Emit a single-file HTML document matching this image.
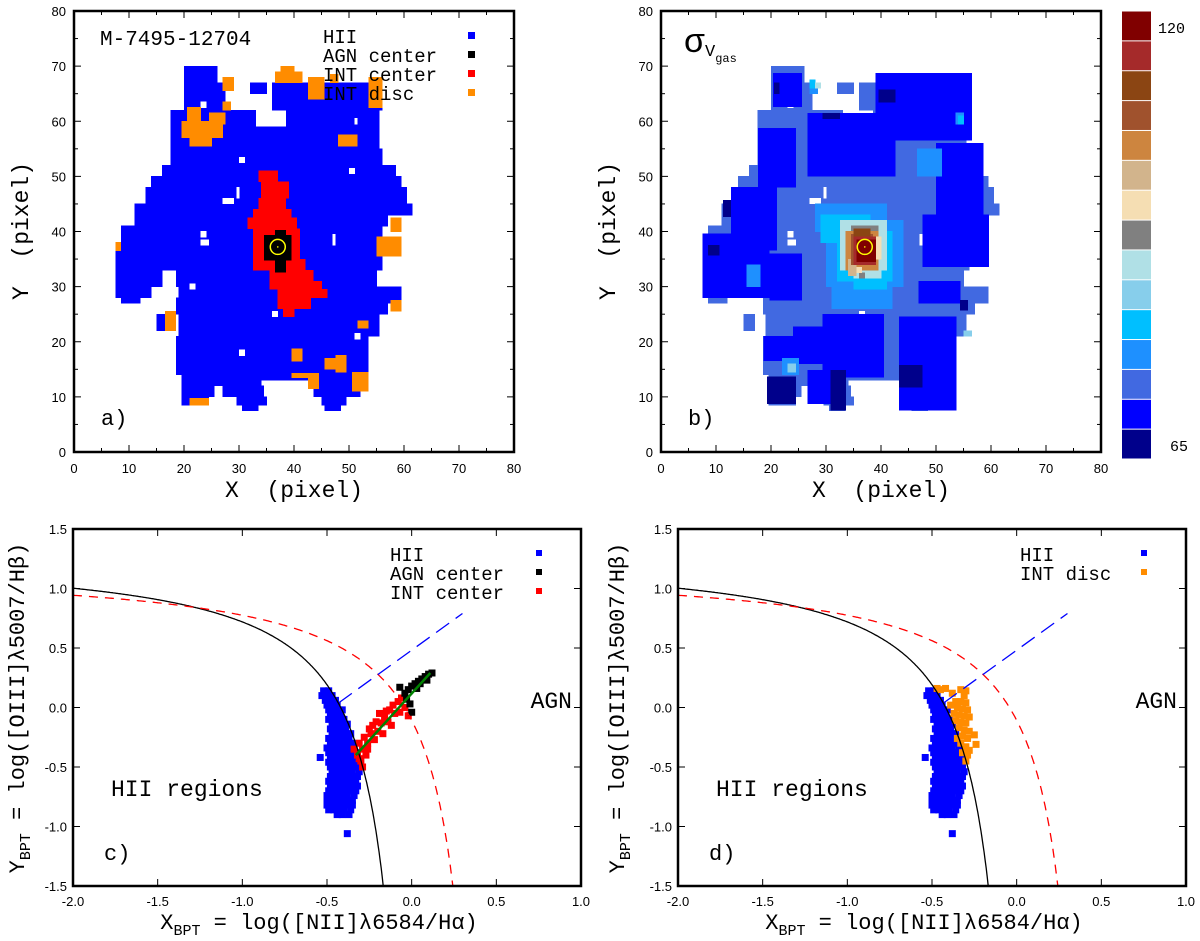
<!DOCTYPE html>
<html><head><meta charset="utf-8"><style>
html,body{margin:0;padding:0;background:#fff}
svg{display:block}
text{font-family:"Liberation Sans",sans-serif}
.mono{font-family:"Liberation Mono",monospace}
</style></head><body>
<svg id="fig" width="1200" height="941" viewBox="0 0 1200 941" xmlns="http://www.w3.org/2000/svg"></svg>
<script>
// ---------- data: map a (region rectangles in pixel units: x0,x1,y0,y1) ----------
const hiiRects=[[20,26,67,70],[20,27.5,62,67],[32,35,65,67],[36,56,62,67],[17.5,33,59,62],[38.5,55.5,59,62],[17.5,55.5,55,59],[17.5,56,52,55],[16,58.5,50,52],[14,59.5,48,50],[13,60.5,45,48],[11,61.5,43,45],[11,57,41,43],[8.5,56,38,41],[7.5,56,33,38],[7.5,16,30,33],[18.5,55,30,33],[7.5,14,28,30],[19,59.5,28,30],[8.5,12,27,28],[18.5,59.5,27,28],[18.5,57,25,27],[15,17,22,25],[19,55.5,21,25],[18.5,53.5,14,21],[19.5,53.5,13,14],[19.5,34,12,13],[43.5,51.5,12,13],[19.5,25.5,10,12],[27,34.5,10,12],[43.5,52,10,12],[19.5,24.5,8.5,10],[29.5,35,8.5,10],[45,49.5,8.5,10],[30.5,33.5,7.5,8.5],[45.5,48.5,7.5,8.5]];
const holeRects=[[30,31,52.5,53.5],[27,29,45,46],[29.5,30,46,48],[23,24,39,40],[23,24.5,37.5,38.5],[47,47.5,37.5,39.5],[50,51,50.5,51.5],[51,51.5,59.5,60.5],[36,37,24.5,25.5],[30,31,17.5,18.5],[51,52,20.5,21.5],[23,24,62.5,63.5],[21,22,29.5,30.5]];
const intCenterRects=[[33.5,37,49,51],[34,39,46,49],[33.5,38.5,44,46],[32.5,39.5,42.5,44],[31.5,40.5,40.5,42.5],[32.5,41,35,40.5],[32.5,42,33,35],[35.5,43.5,31,33],[35.5,45,29.5,31],[37,46,28,29.5],[37,43,26,28],[38,40,24.5,26]];
const agnCenterRects=[[34.5,39.5,34.8,39.3],[36.5,38.5,39.3,40.2],[36.5,38.5,32.6,34.8]];
const intDiscRects=[[27,29,65.5,68],[27,28.5,62,63.5],[20.5,23,59.5,62.5],[19.5,27,57,60],[21,25,55.5,57],[24.5,27.5,59.5,61.5],[36.5,41.5,67,69],[37.5,40,69,70],[42.5,45.5,64,68],[46.5,48,67,68.5],[53.5,56,62.5,68],[48,51.5,55.5,57.5],[57.5,59.5,40,42.5],[55,59.5,35.5,39],[7.5,8.5,36.5,38],[57.5,59.5,25.5,27.5],[51.5,53.5,22.5,23.8],[16.5,18.5,22,25.5],[39.5,41.5,16.5,18.7],[45.5,49.5,15,17],[47.5,49.5,14.5,17.5],[39.5,44.5,13.5,14.3],[42.5,44.5,11.5,14.3],[50.5,53.5,11,14.5],[21,24.5,8.5,9.7]];
const nucleus=[37.05,37.2];
// ---------- data: map b (sigma levels 0..14 = colorbar index from bottom) ----------
const cbColors=['#00008b','#0000ff','#4169e1','#1e90ff','#00bfff','#87ceeb','#b0e0e6','#808080','#f5deb3','#d2b48c','#cd853f','#a0522d','#8b4513','#a52a2a','#800000'];
const cbLabels=['65','120'];
const sigRects=[ // x0,x1,y0,y1,level
[20.4,25.6,62.6,68.7,1],[17.6,24.5,48,58.7,1],[12.7,21,36.6,48,1],[7.5,19.7,28,39.6,1],[26.6,42.6,50,61.4,1],[39,56.5,56.6,68.7,1],[50,58.6,43,56,1],[47.5,59.6,33.6,43,1],[46.8,54.4,27,31,1],[19.7,25.6,27.5,36,1],[29.4,40.5,13.6,25,1],[26.6,33.6,8.8,14.8,1],[43.3,53.7,7.6,24.5,1],[18.6,24.5,16.6,21,1],[24,29.4,16,22.7,1],
[19.3,24.5,8.8,13.6,0],[30.8,33.6,7.6,14.8,0],[43.3,47.5,11.8,15.7,0],[8.5,10.6,35.7,37.5,0],[11.3,12.7,42.7,45.7,0],[39.5,42.6,63.5,65.7,0],[29.4,32.5,60.5,61.4,0],[54.4,55.8,25.7,27.5,0],[20.5,21.5,65,67,0],
[28,41,40,45,3],[30,44,30,42,3],[31,42,26,30,3],[46.5,51,50,55,3],[22,25,14,17,3],[27,28.5,65,67,3],[53.5,55,59.5,61.5,3],[15.5,18,30,34,3],
[29,38,38,43,4],[32,42,31,40,4],[35,41,29.5,31.5,4],[27,28,66,67.5,4],[54,55,59.5,61,4],
[32.5,41,33,42,6],[35,40,31.5,33,6],[23,24.5,14.5,16,5],[55,56.5,21,22,5],[28,29,66,67,6],
[34,35,35,37,7],[36,37,31.5,32.5,7],[34.5,39.5,39,41,7],
[33.5,39.5,33,40,10],[34,35.5,32,35,9],[38,40,35,39,8],[35.5,36.5,32.5,33.5,8],
[34.5,38.5,34,39.5,11],[35,38,36,40.5,12],[35,39,34,39,13],[35.5,39,34.5,38.5,14]];
// ---------- data: BPT diagrams ----------
const hiiPts=[[-0.52,0.14],[-0.49,0.14],[-0.53,0.10],[-0.50,0.10],[-0.47,0.10],[-0.51,0.06],[-0.48,0.06],[-0.45,0.06],[-0.50,0.02],[-0.47,0.02],[-0.44,0.02],[-0.49,-0.02],[-0.46,-0.02],[-0.43,-0.02],[-0.41,-0.02],[-0.48,-0.06],[-0.45,-0.06],[-0.42,-0.06],[-0.49,-0.10],[-0.46,-0.10],[-0.43,-0.10],[-0.40,-0.10],[-0.47,-0.14],[-0.44,-0.14],[-0.41,-0.14],[-0.38,-0.14],[-0.48,-0.18],[-0.45,-0.18],[-0.42,-0.18],[-0.39,-0.18],[-0.47,-0.22],[-0.44,-0.22],[-0.41,-0.22],[-0.38,-0.22],[-0.36,-0.22],[-0.49,-0.26],[-0.46,-0.26],[-0.43,-0.26],[-0.40,-0.26],[-0.37,-0.26],[-0.48,-0.30],[-0.45,-0.30],[-0.42,-0.30],[-0.39,-0.30],[-0.35,-0.30],[-0.50,-0.34],[-0.47,-0.34],[-0.44,-0.34],[-0.41,-0.34],[-0.38,-0.34],[-0.34,-0.34],[-0.49,-0.38],[-0.46,-0.38],[-0.43,-0.38],[-0.40,-0.38],[-0.37,-0.38],[-0.33,-0.38],[-0.54,-0.42],[-0.48,-0.42],[-0.45,-0.42],[-0.42,-0.42],[-0.39,-0.42],[-0.36,-0.42],[-0.32,-0.42],[-0.49,-0.46],[-0.46,-0.46],[-0.43,-0.46],[-0.40,-0.46],[-0.37,-0.46],[-0.33,-0.46],[-0.48,-0.50],[-0.45,-0.50],[-0.42,-0.50],[-0.39,-0.50],[-0.36,-0.50],[-0.32,-0.50],[-0.47,-0.54],[-0.44,-0.54],[-0.41,-0.54],[-0.38,-0.54],[-0.35,-0.54],[-0.31,-0.54],[-0.48,-0.58],[-0.45,-0.58],[-0.42,-0.58],[-0.39,-0.58],[-0.36,-0.58],[-0.32,-0.58],[-0.49,-0.62],[-0.46,-0.62],[-0.43,-0.62],[-0.40,-0.62],[-0.37,-0.62],[-0.33,-0.62],[-0.48,-0.66],[-0.45,-0.66],[-0.42,-0.66],[-0.39,-0.66],[-0.36,-0.66],[-0.32,-0.66],[-0.49,-0.70],[-0.46,-0.70],[-0.43,-0.70],[-0.40,-0.70],[-0.37,-0.70],[-0.33,-0.70],[-0.50,-0.74],[-0.47,-0.74],[-0.44,-0.74],[-0.41,-0.74],[-0.38,-0.74],[-0.34,-0.74],[-0.50,-0.78],[-0.47,-0.78],[-0.44,-0.78],[-0.41,-0.78],[-0.38,-0.78],[-0.35,-0.78],[-0.50,-0.82],[-0.47,-0.82],[-0.44,-0.82],[-0.41,-0.82],[-0.38,-0.82],[-0.35,-0.82],[-0.49,-0.86],[-0.46,-0.86],[-0.43,-0.86],[-0.40,-0.86],[-0.36,-0.86],[-0.44,-0.90],[-0.41,-0.90],[-0.37,-0.90],[-0.38,-1.06]];
const intCenterPts=[[-0.34,-0.35],[-0.32,-0.40],[-0.30,-0.45],[-0.31,-0.30],[-0.29,-0.35],[-0.27,-0.40],[-0.28,-0.25],[-0.26,-0.30],[-0.24,-0.22],[-0.22,-0.27],[-0.25,-0.18],[-0.20,-0.20],[-0.18,-0.13],[-0.21,-0.12],[-0.16,-0.08],[-0.14,-0.12],[-0.13,-0.02],[-0.10,-0.05],[-0.11,0.02],[-0.08,0.05],[-0.06,0.08],[-0.04,0.0],[-0.02,-0.07],[-0.07,-0.04],[-0.17,-0.22],[-0.29,-0.50],[-0.31,-0.43],[-0.26,-0.35],[-0.23,-0.15],[-0.15,-0.03],[-0.19,-0.05],[-0.12,-0.15]];
const agnCenterPts=[[-0.07,0.17],[-0.04,0.12],[-0.02,0.15],[0.0,0.18],[0.02,0.2],[0.04,0.22],[0.06,0.24],[0.08,0.26],[0.10,0.28],[0.12,0.29],[0.05,0.2],[-0.03,0.07],[-0.01,0.03],[0.0,-0.04],[0.09,0.23],[0.03,0.16]];
const intDiscPts=[[-0.47,0.16],[-0.45,0.15],[-0.42,0.16],[-0.38,0.12],[-0.33,0.15],[-0.30,0.14],[-0.31,0.10],[-0.36,0.05],[-0.33,0.05],[-0.30,0.04],[-0.39,0.02],[-0.35,0.0],[-0.32,-0.01],[-0.29,-0.02],[-0.37,-0.05],[-0.34,-0.06],[-0.31,-0.07],[-0.28,-0.08],[-0.36,-0.11],[-0.33,-0.12],[-0.30,-0.13],[-0.34,-0.17],[-0.31,-0.19],[-0.28,-0.2],[-0.32,-0.24],[-0.29,-0.26],[-0.25,-0.23],[-0.24,-0.31],[-0.33,-0.30],[-0.30,-0.33],[-0.32,-0.38],[-0.29,-0.40],[-0.30,-0.45],[-0.28,-0.36],[-0.35,-0.26]];
const fitLine=[[-0.33,-0.40],[0.11,0.29]];
const sepLine=[[-0.43,0.04],[0.3,0.79]];
const mapTicks=[0,10,20,30,40,50,60,70,80];
const bptXTicks=[-2.0,-1.5,-1.0,-0.5,0.0,0.5,1.0];
const bptYTicks=[-1.5,-1.0,-0.5,0.0,0.5,1.0,1.5];

const NS='http://www.w3.org/2000/svg';
const svg=document.getElementById('fig');
function mk(tag,attrs,parent){const e=document.createElementNS(NS,tag);for(const k in attrs)e.setAttribute(k,attrs[k]);(parent||svg).appendChild(e);return e;}
function txt(s,x,y,size,cls,anchor,parent){const t=mk('text',{x:x,y:y,'font-size':size,'text-anchor':anchor||'start'},parent);if(cls)t.setAttribute('class',cls);t.textContent=s;return t;}

// ---------- map panels ----------
function mapPanel(L,name){
  const g=mk('g',{});
  
  
  const cg=mk('g',{'shape-rendering':'crispEdges'},g);
  const T=11,B=452,W=440;
  const sx=X=>L+X*W/80, sy=Y=>B-Y*(B-T)/80;
  return {g,sx,sy,L,T,B,W,rect:(r,c,nm)=>{const e=mk('rect',{x:sx(r[0]),y:sy(r[3])-0.3,width:sx(r[1])-sx(r[0])+0.3,height:sy(r[2])-sy(r[3])+0.6,fill:c},cg);return e;}};
}
function mapAxes(P,label){
  const {g,sx,sy,L,T,B}=P;
  mapTicks.forEach(v=>{
    const x=sx(v);mk('line',{x1:x,y1:B,x2:x,y2:B-7,stroke:'#000','stroke-width':1},g);mk('line',{x1:x,y1:T,x2:x,y2:T+7,stroke:'#000','stroke-width':1},g);
    const y=sy(v);mk('line',{x1:L,y1:y,x2:L+7,y2:y,stroke:'#000'},g);mk('line',{x1:L+440,y1:y,x2:L+433,y2:y,stroke:'#000'},g);
    const xl=txt(String(v),sx(v),B+21,13,'', 'middle',g);
    const yl=txt(String(v),L-8,y+5,13,'','end',g);
    if(v<80){const m=v+5;mk('line',{x1:sx(m),y1:B,x2:sx(m),y2:B-4,stroke:'#000'},g);mk('line',{x1:sx(m),y1:T,x2:sx(m),y2:T+4,stroke:'#000'},g);mk('line',{x1:L,y1:sy(m),x2:L+4,y2:sy(m),stroke:'#000'},g);mk('line',{x1:L+440,y1:sy(m),x2:L+436,y2:sy(m),stroke:'#000'},g);}
  });
  const f=mk('rect',{x:L,y:T,width:440,height:B-T,fill:'none',stroke:'#000','stroke-width':2.5},g);
  
  const xt=txt('X  (pixel)',L+220,497,23,'mono','middle',g);xt.setAttribute('style','white-space:pre');
  
  const yt=txt('Y  (pixel)',0,0,23,'mono','middle',g);yt.setAttribute('style','white-space:pre');yt.setAttribute('transform',`translate(${L-46},231) rotate(-90)`);
  
  const pl=txt(label,L+27,425,22,'mono','start',g);
}
function nucleusMark(P){
  const c=mk('circle',{cx:P.sx(nucleus[0]),cy:P.sy(nucleus[1]),r:7.5,fill:'none',stroke:'#ffff00','stroke-width':1.5},P.g);
  
  mk('circle',{cx:P.sx(nucleus[0]),cy:P.sy(nucleus[1]),r:0.8,fill:'#ffff00'},P.g);
}
// panel a
const A=mapPanel(74,'panel-a-region-map');
hiiRects.forEach(r=>A.rect(r,'#0000ff','hii-cell'));
holeRects.forEach(r=>A.rect(r,'#ffffff','empty-cell'));
intDiscRects.forEach(r=>A.rect(r,'#ff8c00','int-disc-cell'));
intCenterRects.forEach(r=>A.rect(r,'#ff0000','int-center-cell'));
agnCenterRects.forEach(r=>A.rect(r,'#000000','agn-center-cell'));
nucleusMark(A);
mapAxes(A,'a)');
const tA=txt('M-7495-12704',100,45,21,'mono','start',A.g);
const legA=[['HII','#0000ff'],['AGN center','#000000'],['INT center','#ff0000'],['INT disc','#ff8c00']];
legA.forEach((l,i)=>{const y=43+i*19;const t=txt(l[0],323,y,19,'mono','start',A.g);t.setAttribute('style','white-space:pre');
  const m=mk('rect',{x:468,y:y-11,width:7,height:7,fill:l[1]},A.g);});
// panel b
const Bp=mapPanel(661,'panel-b-sigma-map');
hiiRects.forEach(r=>Bp.rect(r,cbColors[2],'sigma-cell'));
holeRects.forEach(r=>Bp.rect(r,'#ffffff','empty-cell'));
sigRects.forEach(r=>Bp.rect(r,cbColors[r[4]],'sigma-cell'));
nucleusMark(Bp);
mapAxes(Bp,'b)');
const sg=mk('text',{x:684,y:52,'font-size':34,'font-family':'"Liberation Serif",serif'},Bp.g);

sg.innerHTML='σ<tspan font-size="17" font-family="Liberation Mono,monospace" dy="4">V</tspan><tspan font-size="12" font-family="Liberation Mono,monospace" dy="6">gas</tspan>';
// colorbar
const cb=mk('g',{});
const cbTop=11,cbBot=459,cellH=(cbBot-cbTop)/cbColors.length;
cbColors.forEach((c,i)=>{const r=mk('rect',{x:1122,y:cbBot-(i+1)*cellH+0.5,width:29,height:cellH-1,fill:c},cb);});
const l1=txt(cbLabels[1],1158,33,15,'mono','start',cb);
const l0=txt(cbLabels[0],1170,451,15,'mono','start',cb);

// ---------- BPT panels ----------
function bptPanel(L,name,panelLbl,groups,legend,legX,mkX,ylabX){
  const g=mk('g',{});
  const T=529,B=886,W=508;
  const sx=x=>L+(x+2)*W/3, sy=y=>B-(y+1.5)*(B-T)/3;
  const cid='clip'+name;const cp=mk('clipPath',{id:cid},g);mk('rect',{x:L,y:T,width:W,height:B-T},cp);
  const pg=mk('g',{'clip-path':`url(#${cid})`},g);
  let d1='',d2='';
  for(let i=0;i<=300;i++){const x=-2+i*(1.832/300);const y=0.61/(x-0.05)+1.3;d1+=(i?'L':'M')+sx(x).toFixed(1)+','+sy(y).toFixed(1);}
  for(let i=0;i<=300;i++){const x=-2+i*(2.243/300);const y=0.61/(x-0.47)+1.19;d2+=(i?'L':'M')+sx(x).toFixed(1)+','+sy(y).toFixed(1);}
  groups.forEach(gr=>gr[0].forEach(p=>{const r=mk('rect',{x:sx(p[0])-3.5,y:sy(p[1])-3.5,width:7,height:7,fill:gr[1]},pg);}));
  const k=mk('path',{d:d1,fill:'none',stroke:'#000','stroke-width':1.3},pg);
  const kw=mk('path',{d:d2,fill:'none',stroke:'#ff0000','stroke-width':1.3,'stroke-dasharray':'9,7'},pg);
  const sl=mk('line',{x1:sx(sepLine[0][0]),y1:sy(sepLine[0][1]),x2:sx(sepLine[1][0]),y2:sy(sepLine[1][1]),stroke:'#0000ff','stroke-width':1.3,'stroke-dasharray':'16,8'},pg);
  bptXTicks.forEach(v=>{const x=sx(v);mk('line',{x1:x,y1:B,x2:x,y2:B-7,stroke:'#000'},g);mk('line',{x1:x,y1:T,x2:x,y2:T+7,stroke:'#000'},g);
    const t=txt(v.toFixed(1),x,B+20,13,'','middle',g);});
  bptYTicks.forEach(v=>{const y=sy(v);mk('line',{x1:L,y1:y,x2:L+7,y2:y,stroke:'#000'},g);mk('line',{x1:L+W,y1:y,x2:L+W-7,y2:y,stroke:'#000'},g);
    const t=txt(v.toFixed(1),L-6,y+5,13,'','end',g);});
  const f=mk('rect',{x:L,y:T,width:W,height:B-T,fill:'none',stroke:'#000','stroke-width':2.5},g);
  legend.forEach((l,i)=>{const y=561+i*19;const t=txt(l[0],legX,y,19,'mono','start',g);t.setAttribute('style','white-space:pre');
    const m=mk('rect',{x:mkX,y:y-11,width:6,height:6,fill:l[1]},g);});
  const ag=txt('AGN',L+W-9,708,23,'mono','end',g);
  const hr=txt('HII regions',L+38,796,23,'mono','start',g);hr.setAttribute('style','white-space:pre');
  const pl=txt(panelLbl,L+31,860,22,'mono','start',g);
  const xt=mk('text',{x:L+W/2-8,y:929,'font-size':22,'text-anchor':'middle',class:'mono'},g);
  xt.innerHTML='X<tspan font-size="15" dy="6">BPT</tspan><tspan dy="-6"> = log([NII]λ6584/Hα)</tspan>';
  const yt=mk('text',{x:0,y:0,'font-size':22,'text-anchor':'middle',class:'mono',transform:`translate(${ylabX},708) rotate(-90)`},g);
  yt.innerHTML='Y<tspan font-size="15" dy="6">BPT</tspan><tspan dy="-6"> = log([OIII]λ5007/Hβ)</tspan>';
  return {sx,sy,g,pg};
}
const C=bptPanel(73,'panel-c-bpt-center','c)',[[hiiPts,'#0000ff','hii-point'],[intCenterPts,'#ff0000','int-center-point'],[agnCenterPts,'#000000','agn-center-point']],[['HII','#0000ff'],['AGN center','#000000'],['INT center','#ff0000']],390,536,24);
const fl=mk('line',{x1:C.sx(fitLine[0][0]),y1:C.sy(fitLine[0][1]),x2:C.sx(fitLine[1][0]),y2:C.sy(fitLine[1][1]),stroke:'#008000','stroke-width':2.5},C.pg);

const D=bptPanel(678,'panel-d-bpt-disc','d)',[[hiiPts,'#0000ff','hii-point'],[intDiscPts,'#ff8c00','int-disc-point']],[['HII','#0000ff'],['INT disc','#ff8c00']],1020,1141,624);
</script>
</body></html>
